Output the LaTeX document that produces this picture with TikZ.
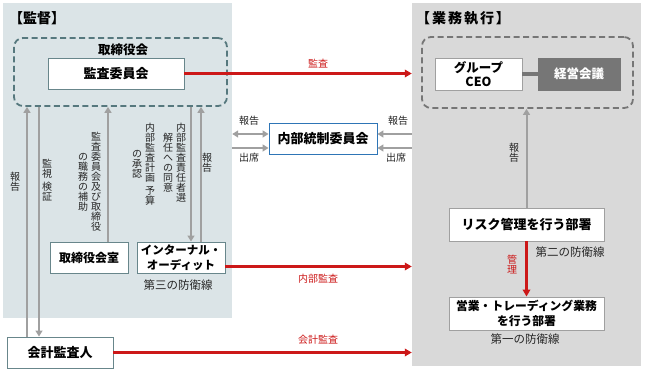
\documentclass[tikz,border=0pt]{standalone}
\usepackage{fontspec}
\setmainfont{Noto Sans CJK JP}
\usetikzlibrary{arrows.meta}

\definecolor{panelblue}{RGB}{219,228,231}
\definecolor{panelgray}{RGB}{217,217,217}
\definecolor{dashteal}{RGB}{86,120,126}
\definecolor{boxteal}{RGB}{104,134,139}
\definecolor{dashgray}{RGB}{118,118,118}
\definecolor{boxgray}{RGB}{160,160,160}
\definecolor{arrowgray}{RGB}{160,160,160}
\definecolor{kaigigray}{RGB}{118,118,118}
\definecolor{auditred}{RGB}{204,24,24}
\definecolor{naibublue}{RGB}{46,117,182}

\begin{document}
\begin{tikzpicture}[x=1pt,y=-1pt,
  panel/.style={inner sep=0pt},
  title/.style={anchor=west, inner sep=0pt, font=\bfseries\fontsize{14}{15}\selectfont},
  dashbox/.style={draw, dashed, dash pattern=on 6pt off 3.5pt, line width=1.8pt, rounded corners=9pt, inner sep=0pt},
  box/.style={draw, fill=white, line width=0.9pt, inner sep=0pt, align=center,
    font=\bfseries\fontsize{13}{15}\selectfont},
  lbl/.style={inner sep=0pt, text=black!85, font=\fontsize{10}{11}\selectfont},
  vlbl/.style={lbl, align=center, font=\fontsize{10}{10}\selectfont},
  rlbl/.style={lbl, text=auditred},
  garrow/.style={draw=arrowgray, line width=2pt, -{Triangle[length=6pt,width=7pt]}},
  rarrow/.style={draw=auditred, line width=2.4pt, -{Triangle[length=7pt,width=7.5pt]}}]
\useasboundingbox (0,0) rectangle (648,371);

% the two panels
\node[panel, fill=panelblue, minimum width=229, minimum height=315] (kantoku) at (117.5,160.5) {};
\node[panel, fill=panelgray, minimum width=229, minimum height=363] (gyomu) at (526.5,184.5) {};
\node[title] (kantokutitle) at (9,18) {【監督】};
\node[title, font=\bfseries\fontsize{14}{15}\selectfont\addfontfeature{LetterSpace=14}] (gyomutitle) at (416,18) {【業務執行】};

% supervision side
\node[dashbox, draw=dashteal, minimum width=213, minimum height=68] (board) at (120.5,72) {};
\node[inner sep=0pt, font=\bfseries\fontsize{12.5}{14}\selectfont] (boardname) at (123,50) {取締役会};
\node[box, draw=boxteal, minimum width=136, minimum height=31] (iinkai) at (116,73.5) {監査委員会};
\node[box, draw=boxteal, minimum width=78, minimum height=31, font=\bfseries\fontsize{12}{14}\selectfont] (shitsu) at (89,257.5) {取締役会室};
\node[box, draw=boxteal, minimum width=88, minimum height=31, font=\bfseries\fontsize{11.5}{14.5}\selectfont] (audit) at (181,257.5) {インターナル・\\オーディット};
\node[lbl, font=\fontsize{11.5}{12}\selectfont] (third) at (178,285) {第三の防衛線};
\node[box, draw=boxteal, minimum width=106, minimum height=31] (kaikei) at (60,352.5) {会計監査人};

% execution side
\node[dashbox, draw=dashgray, minimum width=211, minimum height=71] (exec) at (527.5,72.5) {};
\node[box, draw=boxgray, minimum width=87, minimum height=32, font=\bfseries\fontsize{12.5}{14.5}\selectfont] (ceo) at (478.5,74) {グループ\\CEO};
\node[box, draw=kaigigray, fill=kaigigray, text=white, minimum width=82, minimum height=32, font=\bfseries\fontsize{12.5}{14}\selectfont] (kaigi) at (579,74) {経営会議};
\node[box, draw=boxgray, minimum width=155, minimum height=33] (risk) at (526.5,224.5) {リスク管理を行う部署};
\node[lbl, font=\fontsize{11.5}{12}\selectfont] (second) at (570,252) {第二の防衛線};
\node[box, draw=boxgray, minimum width=155, minimum height=33, font=\bfseries\fontsize{11.8}{15.5}\selectfont] (sales) at (526.5,313.5) {営業・トレーディング業務\\を行う部署};
\node[lbl, font=\fontsize{11.5}{12}\selectfont] (first) at (525,339) {第一の防衛線};

% committee in between
\node[box, draw=naibublue, minimum width=108, minimum height=31] (naibu) at (323,138.5) {内部統制委員会};

\draw[draw=kaigigray, line width=4pt] (ceo.east) -- (kaigi.west);

% vertical arrows of the supervision side
\coordinate (v1) at (27,0);
\coordinate (v2) at (39,0);
\coordinate (v3) at (108,0);
\coordinate (v4) at (191,0);
\coordinate (v5) at (201,0);
\draw[garrow] (kaikei.north -| v1) -- (board.south -| v1);
\draw[garrow] (board.south -| v2) -- (kaikei.north -| v2);
\draw[garrow] (shitsu.north -| v3) -- (board.south -| v3);
\draw[garrow] (board.south -| v4) -- (audit.north -| v4);
\draw[garrow] (audit.north -| v5) -- (board.south -| v5);

\node[vlbl] (l1) at (15,182) {報\\告};
\node[vlbl] (l2) at (47,180) {監\\視\\[3pt]検\\証};
\node[vlbl] (l3a) at (96,182) {監\\査\\委\\員\\会\\及\\び\\取\\締\\役};
\node[vlbl] (l3b) at (83,182) {の\\職\\務\\の\\補\\助};
\node[vlbl] (l4a) at (181,163) {内\\部\\監\\査\\責\\任\\者\\選};
\node[vlbl] (l4b) at (168,163) {解\\任\\へ\\の\\同\\意};
\node[vlbl] (l5a) at (150,164) {内\\部\\監\\査\\計\\画\\[3pt]予\\算};
\node[vlbl] (l5b) at (137,164) {の\\承\\認};
\node[vlbl] (l6) at (207,163) {報\\告};

% arrows to and from the committee
\coordinate (n1) at ([yshift=4.5pt]naibu.west);
\coordinate (n2) at ([yshift=-9.5pt]naibu.west);
\coordinate (n3) at ([yshift=4.5pt]naibu.east);
\coordinate (n4) at ([yshift=-9.5pt]naibu.east);
\draw[garrow, {Triangle[length=6pt,width=7pt]}-{Triangle[length=6pt,width=7pt]}] (n1 -| kantoku.east) -- (n1);
\draw[garrow] (n2 -| kantoku.east) -- (n2);
\draw[garrow] (n3 -| gyomu.west) -- (n3);
\draw[garrow] (n4 -| gyomu.west) -- (n4);
\node[lbl] (h1) at (249,121) {報告};
\node[lbl] (h2) at (249,158) {出席};
\node[lbl] (h3) at (398,121) {報告};
\node[lbl] (h4) at (396,158) {出席};

% execution side arrows
\draw[garrow] (risk.north) -- (risk.north |- exec.south);
\node[vlbl] (l7) at (514,153) {報\\告};
\draw[rarrow] (risk.south) -- (sales.north);
\node[vlbl, text=auditred] (l8) at (512,265) {管\\理};

% audit arrows
\coordinate (r2) at ([yshift=-9pt]audit.east);
\draw[rarrow] (iinkai.east) -- (iinkai.east -| gyomu.west);
\draw[rarrow] (r2) -- (r2 -| gyomu.west);
\draw[rarrow] (kaikei.east) -- (kaikei.east -| gyomu.west);
\node[rlbl] (a1) at (318,64) {監査};
\node[rlbl] (a2) at (318,279) {内部監査};
\node[rlbl] (a3) at (318,340) {会計監査};
\end{tikzpicture}
\end{document}
